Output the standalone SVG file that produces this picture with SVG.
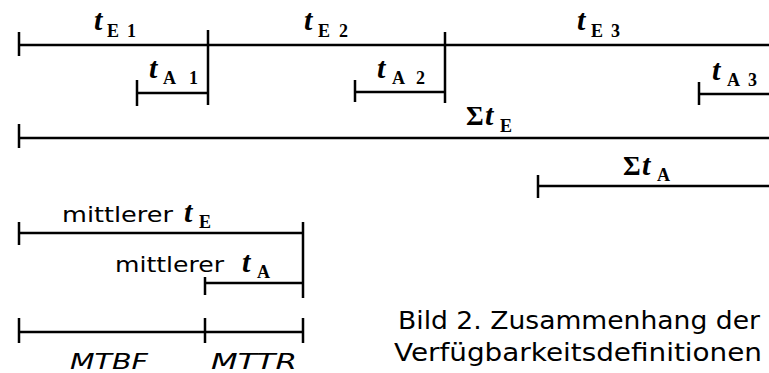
<svg xmlns="http://www.w3.org/2000/svg" width="769" height="373" viewBox="0 0 769 373">
<style>
.ln{stroke:#000;stroke-width:2.5;fill:none;stroke-linecap:butt}
.t{font-family:"Liberation Serif",serif;font-style:italic;font-weight:bold;font-size:30px;fill:#000}
.s{font-family:"Liberation Serif",serif;font-weight:bold;font-size:18px;fill:#000}
.sig{font-family:"Liberation Serif",serif;font-weight:bold;font-size:27px;fill:#000}
.m{font-family:"DejaVu Sans",sans-serif;font-size:22px;fill:#000}
.i{font-family:"DejaVu Sans",sans-serif;font-style:italic;font-size:21px;fill:#000}
.c{font-family:"DejaVu Sans",sans-serif;font-size:24px;fill:#000}
</style>
<rect width="769" height="373" fill="#fff"/>
<g id="connectors">
<path class="ln" d="M19 45H769M19 32V56M208 30V105M445 32V103"/>
<path class="ln" d="M137 93H208M137 80V106"/>
<path class="ln" d="M355 92H445M355 80V102"/>
<path class="ln" d="M699 94H769M699 82V105"/>
<path class="ln" d="M19 138H769M19 124V148"/>
<path class="ln" d="M538 186H769M538 175V198"/>
<path class="ln" d="M19 233H303M19 222V245M303 222V298"/>
<path class="ln" d="M205 283H303M205 277V295"/>
<path class="ln" d="M19 332H303M19 318V343M205 318V343M303 318V343"/>
</g>
<g id="tE1"><text class="t" x="94" y="30">t</text><text class="s" x="107" y="37">E</text><text class="s" x="127" y="37">1</text></g>
<g id="tE2"><text class="t" x="304" y="30">t</text><text class="s" x="318" y="37">E</text><text class="s" x="339" y="37">2</text></g>
<g id="tE3"><text class="t" x="577" y="30">t</text><text class="s" x="591" y="37">E</text><text class="s" x="611" y="37">3</text></g>
<g id="tA1"><text class="t" x="149" y="78">t</text><text class="s" x="163" y="84">A</text><text class="s" x="189" y="84">1</text></g>
<g id="tA2"><text class="t" x="377" y="78">t</text><text class="s" x="392" y="84">A</text><text class="s" x="416" y="84">2</text></g>
<g id="tA3"><text class="t" x="712" y="80">t</text><text class="s" x="727" y="86">A</text><text class="s" x="748" y="86">3</text></g>
<g id="sumtE"><text class="sig" x="466" y="125">Σ</text><text class="t" x="485" y="125">t</text><text class="s" x="500" y="132">E</text></g>
<g id="sumtA"><text class="sig" x="623" y="175">Σ</text><text class="t" x="642" y="175">t</text><text class="s" x="657" y="181">A</text></g>
<g id="mtE"><text class="m" x="62" y="222" textLength="111" lengthAdjust="spacingAndGlyphs">mittlerer</text><text class="t" x="184" y="222">t</text><text class="s" x="199" y="228">E</text></g>
<g id="mtA"><text class="m" x="115" y="272" textLength="109" lengthAdjust="spacingAndGlyphs">mittlerer</text><text class="t" x="242" y="272">t</text><text class="s" x="257" y="278">A</text></g>
<g id="mtbf"><text class="i" x="70" y="369" textLength="78" lengthAdjust="spacingAndGlyphs">MTBF</text><text class="i" x="211" y="369" textLength="86" lengthAdjust="spacingAndGlyphs">MTTR</text></g>
<g id="caption"><text class="c" x="398" y="329" textLength="362" lengthAdjust="spacingAndGlyphs">Bild 2. Zusammenhang der</text><text class="c" x="394" y="361" textLength="368" lengthAdjust="spacingAndGlyphs">Verfügbarkeitsdefinitionen</text></g>
</svg>
